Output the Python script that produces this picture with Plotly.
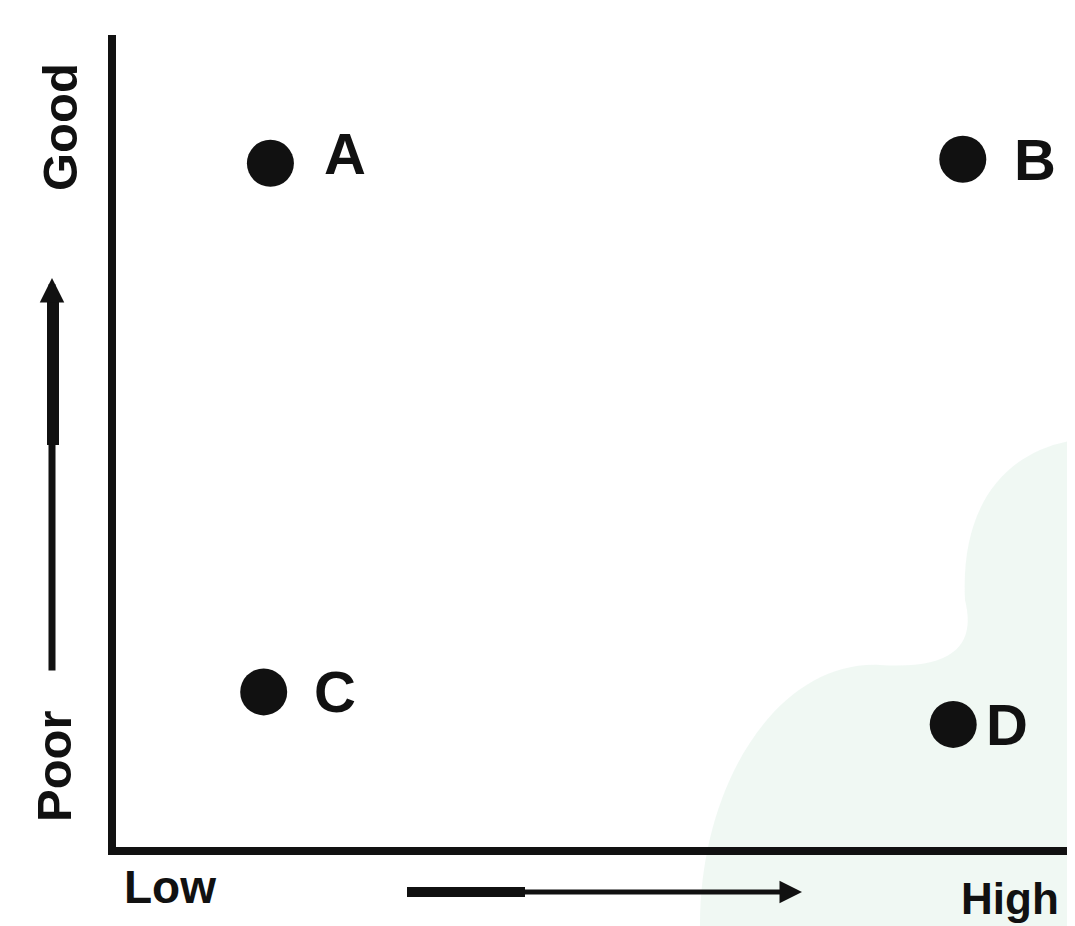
import plotly.graph_objects as go

labels = ["A", "B", "C", "D"]
x_vals = [1.61, 8.83, 1.54, 8.73]
y_vals = [8.42, 8.47, 1.91, 1.51]
label_shift = [52, 49, 48, 31]
label_yshift = [10, 0, 0, 0]

# page geometry (browser body has an 8px margin)
OFF = 8
W, H = 1075 - OFF, 926 - OFF
PL, PR, PT, PB = 116, 1075, 35, 847   # plot area in page pixels
pw, ph = PR - PL, PB - PT

def px(x):
    return (x - PL) / pw

def py(y):
    return (PB - y) / ph

FONT = "Liberation Sans Narrow, Liberation Sans, Arial, sans-serif"
INK = "#111111"

fig = go.Figure()
fig.add_trace(go.Scatter(
    x=x_vals, y=y_vals, mode="markers",
    marker=dict(size=47, color=INK),
    hoverinfo="skip", showlegend=False,
))

for lab, xv, yv, s, ys in zip(labels, x_vals, y_vals, label_shift, label_yshift):
    fig.add_annotation(x=xv, y=yv, text="<b>%s</b>" % lab, showarrow=False,
                       xanchor="left", yanchor="middle", xshift=s, yshift=ys,
                       font=dict(family=FONT, size=58, color=INK))

# faint watermark blob
blob = ("M %f %f C %f %f %f %f %f %f C %f %f %f %f %f %f C %f %f %f %f %f %f "
        "C %f %f %f %f %f %f L %f %f Z") % (
    px(700), py(926),
    px(700), py(780), px(780), py(660), px(880), py(665),
    px(960), py(670), px(975), py(640), px(965), py(600),
    px(960), py(500), px(1010), py(450), px(1075), py(440),
    px(1075), py(700), px(1075), py(800), px(1075), py(926),
    px(700), py(926))
fig.add_shape(type="path", path=blob, xref="paper", yref="paper",
              fillcolor="#e4f3ea", opacity=0.55, line=dict(width=0), layer="below")

def side_text(x, y, txt, size, angle=0):
    fig.add_annotation(x=px(x), y=py(y), xref="paper", yref="paper",
                       text="<b>%s</b>" % txt, textangle=angle, showarrow=False,
                       xanchor="center", yanchor="middle",
                       font=dict(family=FONT, size=size, color=INK))

side_text(60, 127, "Good", 49, -90)
side_text(54, 766, "Poor", 49, -90)
side_text(170, 887, "Low", 46)
side_text(1010, 898, "High", 44)

# vertical arrow
fig.add_annotation(x=px(52), y=py(278), xref="paper", yref="paper", text="",
                   showarrow=True, axref="pixel", ayref="pixel", ax=0, ay=394,
                   arrowhead=2, arrowsize=0.7, arrowwidth=7, arrowcolor=INK)
fig.add_shape(type="line", xref="paper", yref="paper",
              x0=px(53), x1=px(53), y0=py(292), y1=py(445),
              line=dict(color=INK, width=12))
# horizontal arrow
fig.add_annotation(x=px(802), y=py(892), xref="paper", yref="paper", text="",
                   showarrow=True, axref="pixel", ayref="pixel", ax=-395, ay=0,
                   arrowhead=2, arrowsize=0.9, arrowwidth=5, arrowcolor=INK)
fig.add_shape(type="line", xref="paper", yref="paper",
              x0=px(407), x1=px(525), y0=py(892), y1=py(892),
              line=dict(color=INK, width=10))

fig.update_xaxes(range=[0, 10], showline=True, linewidth=8, linecolor=INK,
                 showgrid=False, zeroline=False, showticklabels=False, ticks="")
fig.update_yaxes(range=[0, 10], showline=True, linewidth=8, linecolor=INK,
                 showgrid=False, zeroline=False, showticklabels=False, ticks="")
fig.update_layout(width=W, height=H,
                  margin=dict(l=PL - OFF, r=0, t=PT - OFF, b=H - (PB - OFF)),
                  plot_bgcolor="white", paper_bgcolor="white")
fig.write_html("out.html")
